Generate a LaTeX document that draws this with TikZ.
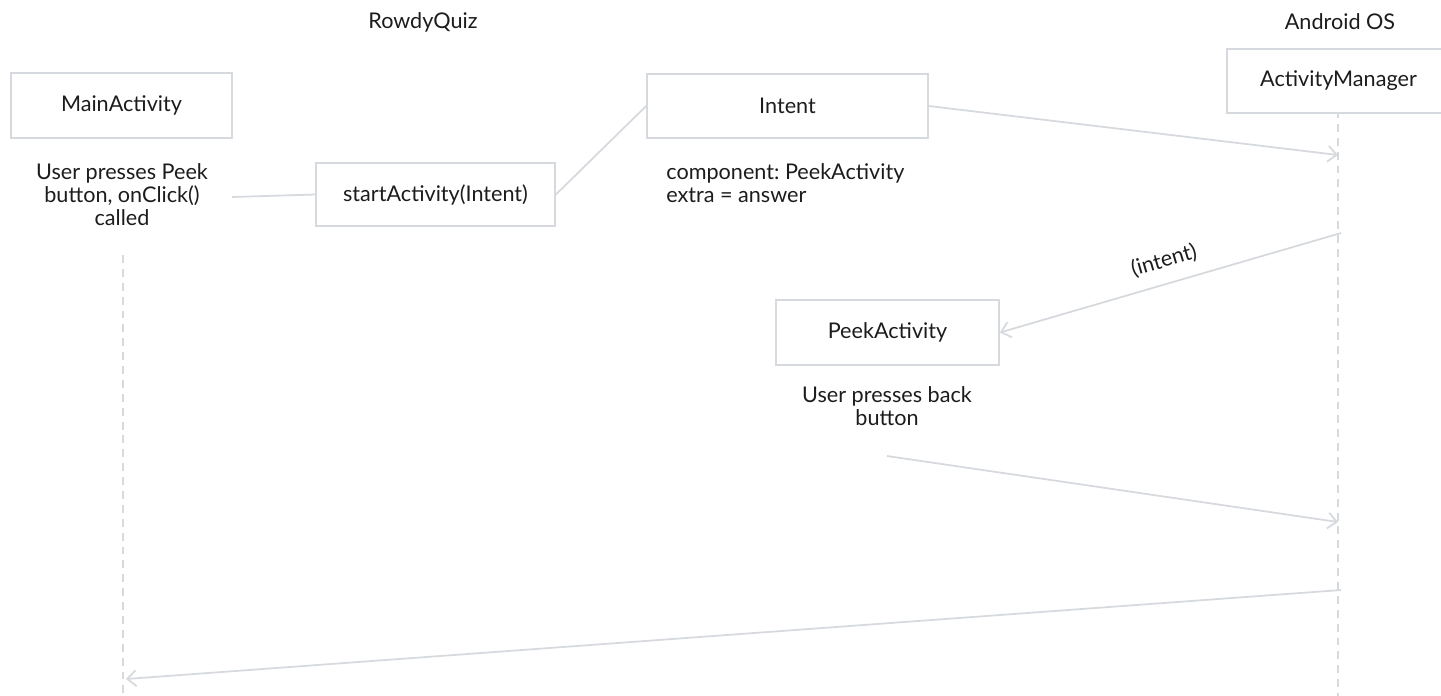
\documentclass[tikz,border=0pt]{standalone}
\usepackage{fontspec}
\setmainfont{Lato}
\frenchspacing
\usetikzlibrary{arrows.meta,positioning}
\definecolor{linegray}{HTML}{D6D9DD}
\definecolor{inkgray}{HTML}{1C1C1C}
\tikzset{
  lbl/.style={inner sep=0pt,text=inkgray,font=\fontsize{12.3}{13.1}\selectfont},
  note/.style={lbl,align=center},
  actor/.style={lbl,draw=linegray,line width=1pt,fill=white,minimum width=#1,minimum height=1.3cm},
  link/.style={draw=linegray,line width=1pt},
  msg/.style={link,-{Straight Barb[length=5pt,width=9pt]}},
  lifeline/.style={draw=linegray,line width=1.1pt,dash pattern=on 4.5pt off 3.4pt}
}
\begin{document}
\begin{tikzpicture}
\useasboundingbox (0,0) rectangle (28.82,-13.9);
% Headings
\node[lbl](rq) at (8.46,-0.44){RowdyQuiz};
\node[lbl](aos) at (26.8,-0.44){Android OS};
% Lifelines
\coordinate (mainTop) at (2.46,-5.1);
\coordinate (mainEnd) at (2.46,-13.95);
\draw[lifeline] (mainTop) -- (mainEnd);
\coordinate (amEnd) at (26.76,-13.95);
\draw[lifeline] (26.76,-2.2) -- (amEnd);
% Boxes
\node[actor=4.42cm](main) at (2.43,-2.11){MainActivity};
\node[actor=4.78cm,minimum height=1.26cm](start) at (8.71,-3.89){startActivity(Intent)};
\node[actor=5.62cm,minimum height=1.28cm](intent) at (15.75,-2.12){Intent};
\node[actor=4.46cm,minimum height=1.28cm](am) at (26.77,-1.62){ActivityManager};
\node[actor=4.46cm](peek) at (17.75,-6.65){PeekActivity};
% Notes
\node[note](click) at (2.44,-3.9){User presses Peek\\button, onClick()\\called};
\node[lbl,align=left,anchor=west](extra) at (13.32,-3.66){component: PeekActivity\\extra = answer};
\node[note](back) at (17.74,-8.13){User presses back\\button};
% Arrows
\coordinate (clickOut) at (4.64,-3.94);
\coordinate (backOut) at (17.74,-9.12);
\coordinate (amIn1) at (26.76,-3.1);
\coordinate (amOut1) at (26.82,-4.66);
\coordinate (amIn2) at (26.76,-10.44);
\coordinate (amOut2) at (26.82,-11.8);
\coordinate (mainIn) at (2.52,-13.58);
\draw[link] (clickOut) -- (start.west);
\draw[link] (start.east) -- (intent.west);
\draw[msg] (intent.east) -- (amIn1);
\draw[msg] (amOut1) -- node[lbl,pos=0.5,sloped,above=7pt]{(intent)} (peek.east);
\draw[msg] (backOut) -- (amIn2);
\draw[msg] (amOut2) -- (mainIn);
\end{tikzpicture}
\end{document}
